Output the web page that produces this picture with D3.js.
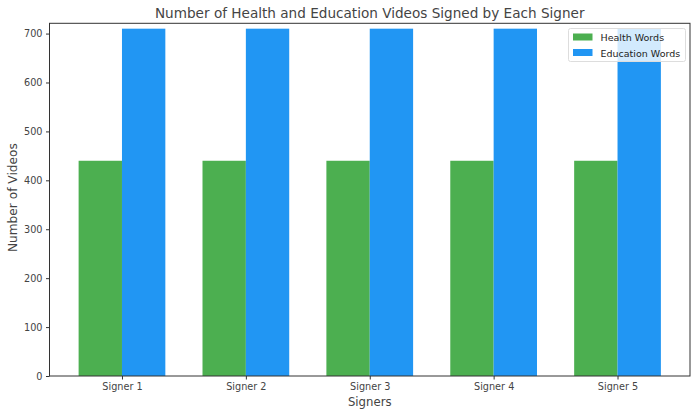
<!DOCTYPE html>
<html>
<head>
<meta charset="utf-8">
<script src="https://cdn.jsdelivr.net/npm/d3@7"></script>
<style>
  body { margin: 0; background: #fff; }
  text { font-family: "DejaVu Sans", sans-serif; fill: #444; }
</style>
</head>
<body>
<svg width="697" height="416"></svg>
<script>
const signers = ["Signer 1", "Signer 2", "Signer 3", "Signer 4", "Signer 5"];
const healthVideos = [440, 440, 440, 440, 440];
const educationVideos = [710, 710, 710, 710, 710];
const yTicks = [0, 100, 200, 300, 400, 500, 600, 700];
const seriesNames = ["Health Words", "Education Words"];
const seriesColors = ["#4CAF50", "#2196F3"];

const layout = { left: 49.5, right: 690, top: 23.3, bottom: 376 };
const barWidth = 0.35;

const svg = d3.select("svg");

// matplotlib-like numeric x axis: index positions with 5% margin
const x = d3.scaleLinear()
  .domain([-0.585, signers.length - 1 + 0.585])
  .range([layout.left, layout.right]);
const y = d3.scaleLinear()
  .domain([0, 721])
  .range([layout.bottom, layout.top]);

const series = [healthVideos, educationVideos];
series.forEach((vals, s) => {
  const offset = s === 0 ? -barWidth : 0;
  svg.append("g")
    .selectAll("rect")
    .data(vals)
    .join("rect")
    .attr("x", (d, i) => x(i + offset))
    .attr("width", x(barWidth) - x(0))
    .attr("y", d => y(d))
    .attr("height", d => y(0) - y(d))
    .attr("fill", seriesColors[s]);
});

// frame
svg.append("rect")
  .attr("x", layout.left)
  .attr("y", layout.top)
  .attr("width", layout.right - layout.left)
  .attr("height", layout.bottom - layout.top)
  .attr("fill", "none")
  .attr("stroke", "#333")
  .attr("stroke-width", 1);

// x axis
const xAxis = svg.append("g")
  .attr("transform", `translate(0,${layout.bottom})`)
  .call(d3.axisBottom(x)
    .tickValues(signers.map((d, i) => i))
    .tickFormat(i => signers[i])
    .tickSize(3.5)
    .tickPadding(3.5));
xAxis.select(".domain").remove();
xAxis.selectAll("line").attr("stroke", "#333");
xAxis.selectAll("text").attr("font-size", 9.7).style("fill", "#444");

// y axis
const yAxis = svg.append("g")
  .attr("transform", `translate(${layout.left},0)`)
  .call(d3.axisLeft(y)
    .tickValues(yTicks)
    .tickSize(3.5)
    .tickPadding(3.5));
yAxis.select(".domain").remove();
yAxis.selectAll("line").attr("stroke", "#333");
yAxis.selectAll("text").attr("font-size", 9.7).style("fill", "#444");

// title & labels
svg.append("text")
  .attr("x", (layout.left + layout.right) / 2)
  .attr("y", 18)
  .attr("text-anchor", "middle")
  .attr("font-size", 13.6)
  .text("Number of Health and Education Videos Signed by Each Signer");

svg.append("text")
  .attr("x", (layout.left + layout.right) / 2)
  .attr("y", 406)
  .attr("text-anchor", "middle")
  .attr("font-size", 11.7)
  .text("Signers");

svg.append("text")
  .attr("transform", `translate(17,${(layout.top + layout.bottom) / 2 - 2}) rotate(-90)`)
  .attr("text-anchor", "middle")
  .attr("font-size", 12.2)
  .text("Number of Videos");

// legend
const legend = svg.append("g").attr("transform", "translate(568.5,28.5)");
legend.append("rect")
  .attr("width", 117)
  .attr("height", 33)
  .attr("rx", 2)
  .attr("fill", "rgba(255,255,255,0.8)")
  .attr("stroke", "#ddd");
seriesNames.forEach((name, i) => {
  const g = legend.append("g").attr("transform", `translate(4.5,${5 + i * 15.5})`);
  g.append("rect")
    .attr("width", 19.5)
    .attr("height", 7)
    .attr("fill", seriesColors[i]);
  g.append("text")
    .attr("x", 27.5)
    .attr("y", 7.5)
    .attr("font-size", 9.5)
    .style("fill", "#222")
    .text(name);
});
</script>
</body>
</html>
